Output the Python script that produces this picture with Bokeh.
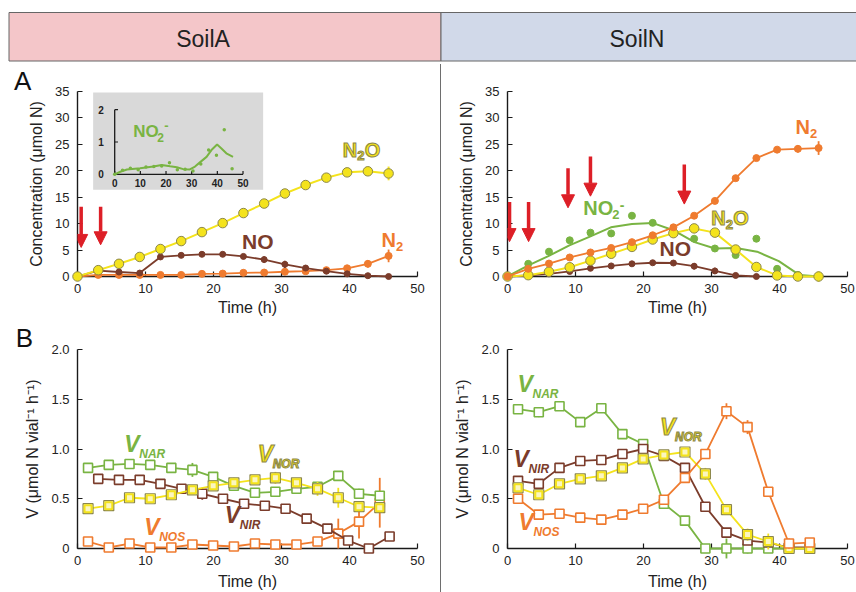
from bokeh.plotting import figure
from bokeh.layouts import column, row
from bokeh.models import Range1d, FixedTicker, Arrow, NormalHead, Spacer, ColumnDataSource
from bokeh.core.properties import value
from bokeh.embed import file_html
from bokeh.resources import INLINE

FONT = "Liberation Sans"
GREEN = "#79b443"
YELLOW = "#f4e31c"
YEL_EDGE = "#8c874a"
BROWN = "#7b3c2b"
ORANGE = "#ef7b2f"
RED = "#dd1f27"
AXIS = "#1a1a1a"

# ---------------- data ----------------
header_labels = ["SoilA", "SoilN"]

conc_xticks = [0, 10, 20, 30, 40, 50]
conc_yticks = [0, 5, 10, 15, 20, 25, 30, 35]
rate_yticks = [0, 0.5, 1.0, 1.5, 2.0]
rate_ylabels = ["0", "0.5", "1.0", "1.5", "2.0"]
inset_xticks = [0, 10, 20, 30, 40, 50]
inset_yticks = [0, 1, 2]

time_conc = [0, 3.05, 6.1, 9.15, 12.2, 15.25, 18.3, 21.35, 24.4, 27.45, 30.5, 33.55, 36.6, 39.65, 42.7, 45.75]

# SoilA gases (umol N)
soilA_N2O = [0, 1.2, 2.4, 3.7, 5.2, 6.7, 8.4, 10.1, 12.0, 13.8, 15.7, 17.3, 18.7, 19.7, 19.9, 19.5]
soilA_N2O_err = [0, 0, 0, 0, 0, 0, 0, 0, 0, 0, 0, 0, 0.6, 0.3, 0.8, 1.3]
soilA_NO = [0, 1.1, 0.85, 0.65, 3.7, 4.0, 4.2, 4.2, 3.8, 3.2, 2.3, 1.6, 1.0, 0.5, 0.15, 0.0]
soilA_NO_err = [0, 0, 0, 0, 0, 0, 0, 0, 0.3, 0.6, 0.7, 0.5, 0.3, 0, 0, 0]
soilA_N2 = [0, 0.3, 0.3, 0.3, 0.3, 0.3, 0.5, 0.55, 0.7, 0.75, 0.9, 1.0, 1.2, 1.55, 2.4, 3.9]
soilA_N2_err = [0, 0, 0, 0, 0, 0, 0, 0, 0, 0, 0, 0, 0, 0.3, 0.7, 1.2]
# SoilA nitrite (inset)
soilA_NO2 = [0, 0.13, 0.19, 0.14, 0.23, 0.24, 0.26, 0.36, 0.14, 0.16, 0.10, 0.32, 0.75, 0.59, 1.38, 0.17]
soilA_NO2_fit_t = [0, 2.2, 4.8, 9.9, 15.1, 18.3, 21.6, 24.2, 26.7, 29.3, 31.3, 33.2, 35.8, 37.7, 39.9, 41.6, 43.5, 46.1]
soilA_NO2_fit = [0, 0.08, 0.15, 0.19, 0.24, 0.29, 0.25, 0.22, 0.16, 0.15, 0.24, 0.37, 0.54, 0.75, 0.92, 0.80, 0.65, 0.54]
soilA_arrow_t = [0.54, 3.4]
soilA_arrow_top = [13.2, 13.2]
soilA_arrow_tip = [5.5, 6.0]

# SoilN gases (umol N)
soilN_N2 = [0, 1.45, 2.45, 3.6, 4.55, 5.4, 6.5, 7.8, 9.3, 11.5, 14.3, 18.6, 22.4, 24.0, 24.15, 24.3]
soilN_N2_err = [0, 0, 0, 0, 0, 0, 0, 0, 0, 0, 0, 0, 0, 0, 0.7, 1.3]
soilN_N2O = [0, 0.25, 0.9, 1.75, 3.0, 4.3, 5.6, 7.0, 8.2, 9.1, 8.3, 5.1, 1.8, 0.2, 0.0, 0.0]
soilN_N2O_err = [0, 0, 0, 0, 0, 0, 0, 0, 0, 0, 0, 0, 0, 0, 0, 1.0]
soilN_NO = [0, 0.2, 0.5, 0.95, 1.55, 2.0, 2.4, 2.6, 2.55, 1.95, 1.05, 0.2, 0.0]
soilN_NO_err = [0, 0, 0, 0, 0, 0, 0, 0, 0, 0.6, 0.6, 0.5, 0.4]
soilN_NO2 = [0, 2.4, 4.7, 6.85, 8.3, 8.15, 11.5, 10.15, 8.35, 7.15, 5.3, 4.05, 7.15, 1.45, 0.3, 0.0]
soilN_NO2_fit_t = [0, 3.0, 6.0, 9.1, 12.2, 15.2, 18.3, 21.4, 24.5, 27.5, 30.5, 33.6, 36.7, 39.9, 42.9, 45.9]
soilN_NO2_fit = [0, 2.05, 3.85, 5.9, 7.6, 9.3, 9.95, 10.1, 8.7, 6.5, 5.3, 5.4, 4.7, 2.9, 0.3, 0.0]
soilN_arrow_t = [0.3, 3.1, 8.9, 12.2, 26.0]
soilN_arrow_top = [14.1, 14.1, 20.5, 22.7, 21.2]
soilN_arrow_tip = [6.6, 6.6, 13.0, 15.2, 13.7]

# Enzyme rates V (umol N vial-1 h-1)
time_rate = [1.55, 4.6, 7.65, 10.7, 13.8, 16.9, 19.95, 23.0, 26.1, 29.1, 32.2, 35.3, 38.35, 41.4, 44.45]
time_rate_nirA = [3.05, 6.1, 9.15, 12.2, 15.3, 18.35, 21.4, 24.5, 27.55, 30.6, 33.7, 36.75, 39.8, 42.85, 45.9]

soilA_NAR = [0.81, 0.84, 0.85, 0.84, 0.81, 0.79, 0.72, 0.63, 0.56, 0.57, 0.60, 0.62, 0.73, 0.55, 0.53]
soilA_NAR_err = [0, 0, 0.04, 0.02, 0.03, 0.07, 0, 0.05, 0, 0, 0, 0.03, 0.02, 0.05, 0]
soilA_NOR = [0.40, 0.43, 0.51, 0.50, 0.54, 0.59, 0.63, 0.66, 0.69, 0.71, 0.66, 0.60, 0.51, 0.42, 0.41]
soilA_NOR_err = [0, 0, 0, 0, 0, 0.04, 0, 0.05, 0.03, 0.06, 0.03, 0.07, 0.1, 0.05, 0.05]
soilA_NIR = [0.70, 0.69, 0.69, 0.65, 0.60, 0.55, 0.50, 0.45, 0.43, 0.40, 0.30, 0.20, 0.08, 0.00, 0.12]
soilA_NIR_err = [0, 0, 0.04, 0, 0.03, 0.06, 0, 0.04, 0, 0.02, 0, 0, 0, 0.02, 0]
soilA_NOS = [0.07, 0.01, 0.05, 0.01, 0.01, 0.04, 0.03, 0.02, 0.05, 0.04, 0.04, 0.07, 0.15, 0.27, 0.46]
soilA_NOS_err = [0, 0, 0, 0, 0, 0, 0, 0, 0, 0, 0, 0.04, 0.15, 0.17, 0.25]

soilN_NAR = [1.40, 1.37, 1.43, 1.27, 1.41, 1.15, 1.05, 0.45, 0.28, 0, 0, 0, 0, 0, 0]
soilN_NAR_err = [0, 0.05, 0, 0, 0, 0, 0.04, 0, 0, 0, 0.1, 0.05, 0, 0, 0]
soilN_NIR = [0.68, 0.65, 0.81, 0.88, 0.89, 0.95, 1.00, 0.93, 0.81, 0.42, 0.16, 0.08, 0.06, 0.01, 0.01]
soilN_NIR_err = [0, 0, 0.03, 0, 0.02, 0.05, 0, 0.03, 0, 0, 0, 0, 0, 0, 0]
soilN_NOR = [0.61, 0.54, 0.65, 0.70, 0.73, 0.81, 0.90, 0.94, 0.97, 0.75, 0.39, 0.14, 0.07, 0.0, 0.0]
soilN_NOR_err = [0, 0, 0, 0, 0, 0, 0, 0.03, 0, 0.06, 0, 0.06, 0.08, 0.05, 0]
soilN_NOS = [0.50, 0.34, 0.35, 0.31, 0.29, 0.34, 0.40, 0.49, 0.71, 0.95, 1.38, 1.22, 0.57, 0.05, 0.06]
soilN_NOS_err = [0, 0, 0, 0, 0, 0, 0, 0, 0, 0, 0.08, 0.07, 0, 0.05, 0]


# ---------------- helpers ----------------
def make_fig(w, h, left, right, top, bottom, yr, ylabel, yticks, ylabels=None, title_gap=3):
    p = figure(width=w, height=h, x_range=Range1d(0, 50), y_range=Range1d(*yr),
               output_backend="svg", toolbar_location=None,
               min_border_left=left, min_border_right=right,
               min_border_top=top, min_border_bottom=bottom)
    p.grid.visible = False
    p.outline_line_color = None
    p.border_fill_color = "white"
    p.background_fill_color = "white"
    p.xaxis.ticker = FixedTicker(ticks=conc_xticks)
    p.yaxis.ticker = FixedTicker(ticks=yticks)
    if ylabels:
        p.yaxis.major_label_overrides = dict(zip(yticks, ylabels))
    p.xaxis.axis_label = "Time (h)"
    p.yaxis.axis_label = ylabel
    for ax in p.axis:
        ax.axis_line_color = AXIS
        ax.axis_line_width = 1.4
        ax.major_tick_line_color = AXIS
        ax.major_tick_line_width = 1.2
        ax.major_tick_in = 5
        ax.major_tick_out = 0
        ax.minor_tick_line_color = None
        ax.major_label_text_font = FONT
        ax.major_label_text_font_size = "13px"
        ax.major_label_text_color = "#222222"
        ax.axis_label_text_font = FONT
        ax.axis_label_text_font_size = "16px"
        ax.axis_label_text_font_style = "normal"
        ax.axis_label_text_color = "#222222"
    p.xaxis.major_label_standoff = 7
    p.xaxis.axis_label_standoff = title_gap
    p.yaxis.major_label_standoff = 8
    p.yaxis.axis_label_standoff = 7
    return p


def series(g, x, y, color, err=None, marker="circle", size=7, fill=None, edge=None, lw=1.8, edge_w=1.0):
    g.line(x, y, line_color=color, line_width=lw, level="overlay")
    if err is not None:
        xs, lo, hi = [], [], []
        for xi, yi, ei in zip(x, y, err):
            if ei > 0:
                xs.append(xi)
                lo.append(yi - ei)
                hi.append(yi + ei)
        g.segment(x0=xs, y0=lo, x1=xs, y1=hi, line_color=color, line_width=lw, level="overlay")
    g.scatter(x, y, marker=marker, size=size, fill_color=fill or color,
              line_color=edge or color, line_width=edge_w, level="overlay")


def rich(g, x, y, pieces, color, style="bold", outline=None):
    off = 0.0
    for txt, size, dy, adv in pieces:
        kw = {}
        if outline:
            kw["text_outline_color"] = outline
        g.text(x=[x], y=[y], text=[txt], x_offset=off, y_offset=dy,
               text_font=value(FONT), text_font_size=f"{size}px", text_font_style=style,
               text_color=color, text_align="left", text_baseline="middle", level="overlay", **kw)
        off += adv


def arrows(p, xs, tops, tips):
    src = ColumnDataSource(dict(x=xs, top=tops, tip=tips))
    p.add_layout(Arrow(end=NormalHead(size=13, fill_color=RED, line_color=RED, line_width=1),
                       x_start="x", y_start="top", x_end="x", y_end="tip", source=src,
                       line_color=RED, line_width=3.5))


def vlabel(g, x, y, sub, color, outline=None):
    rich(g, x, y, [("V", 23, 0, 15), (sub, 12, 10, 0)], color, style="bold italic", outline=outline)


def panel_letter(p, x, y, txt):
    p.text(x=[x], y=[y], text=[txt], text_font=value(FONT), text_font_size="26px",
           text_color="#111111", text_align="center", text_baseline="middle", level="overlay")


# ---------------- header ----------------
hdr = figure(width=856, height=64, x_range=Range1d(0, 856), y_range=Range1d(0, 64),
             output_backend="svg", toolbar_location=None, min_border=0,
             x_axis_location=None, y_axis_location=None)
hdr.grid.visible = False
hdr.outline_line_color = None
hdr.quad(left=[8.5, 440.5], right=[440.5, 862], bottom=[3.5, 3.5], top=[52, 52],
         fill_color=["#f4c6c9", "#d1d9e9"], line_color="#666666", line_width=1)
hdr.text(x=[202.5, 636.5], y=[25.7, 25.7], text=header_labels, text_font=value(FONT),
         text_font_size="23px", text_color="#222222", text_align="center", text_baseline="middle")

# ---------------- panel A, SoilA ----------------
pA = make_fig(440, 254, 77, 22, 27, 40, (0, 35), "Concentration (μmol N)", conc_yticks)
pA.quad(left=[2.3], right=[27.3], bottom=[16.4], top=[34.8], fill_color="#d9d9d9", line_color=None)
ins = pA.subplot(x_source=Range1d(0, 50), y_source=Range1d(0, 2),
                 x_target=Range1d(5.47, 24.34), y_target=Range1d(19.33, 31.56))
ins.line([0, 0], [0, 2], line_color=AXIS, line_width=1.3)
ins.line([0, 50], [0, 0], line_color=AXIS, line_width=1.3)
ins.segment(x0=[0] * len(inset_yticks), x1=[1.3] * len(inset_yticks), y0=inset_yticks, y1=inset_yticks,
            line_color=AXIS, line_width=1.2)
ins.segment(x0=inset_xticks, x1=inset_xticks, y0=[0] * len(inset_xticks), y1=[0.1] * len(inset_xticks),
            line_color=AXIS, line_width=1.2)
ins.text(x=[-4.2] * len(inset_yticks), y=inset_yticks, text=[str(v) for v in inset_yticks],
         text_font=value(FONT), text_font_size="10px", text_font_style="bold", text_color="#222222",
         text_align="right", text_baseline="middle")
ins.text(x=inset_xticks, y=[-0.27] * len(inset_xticks), text=[str(v) for v in inset_xticks],
         text_font=value(FONT), text_font_size="10px", text_font_style="bold", text_color="#222222",
         text_align="center", text_baseline="middle")
ins.line(soilA_NO2_fit_t, soilA_NO2_fit, line_color=GREEN, line_width=2)
ins.scatter(time_conc, soilA_NO2, size=3.5, fill_color=GREEN, line_color=None)
rich(ins, 7.2, 1.32, [("NO", 17, 0, 24), ("2", 12, 6, 7), ("-", 13, -6, 0)], GREEN)

series(pA, time_conc, soilA_N2, ORANGE, soilA_N2_err, size=7)
series(pA, time_conc, soilA_NO, BROWN, soilA_NO_err, size=6)
series(pA, time_conc, soilA_N2O, YELLOW, soilA_N2O_err, size=9.5, edge=YEL_EDGE, lw=2)
arrows(pA, soilA_arrow_t, soilA_arrow_top, soilA_arrow_tip)
rich(pA, 39.0, 23.96, [("N", 20, 0, 14.5), ("2", 13, 6, 7.5), ("O", 20, 0, 0)], YELLOW, outline=YEL_EDGE)
rich(pA, 24.2, 6.64, [("NO", 21, 0, 0)], BROWN)
rich(pA, 44.7, 6.83, [("N", 20, 0, 14.5), ("2", 13, 6, 0)], ORANGE)
panel_letter(pA, -8.06, 37.06, "A")

# ---------------- panel A, SoilN ----------------
pAN = make_fig(415, 254, 66, 9, 27, 40, (0, 35), "Concentration (μmol N)", conc_yticks)
pAN.line(soilN_NO2_fit_t, soilN_NO2_fit, line_color=GREEN, line_width=2, level="overlay")
pAN.scatter(time_conc, soilN_NO2, size=7, fill_color=GREEN, line_color=GREEN, level="overlay")
series(pAN, time_conc[:len(soilN_NO)], soilN_NO, BROWN, soilN_NO_err, size=6)
series(pAN, time_conc, soilN_N2O, YELLOW, soilN_N2O_err, size=9.5, edge=YEL_EDGE, lw=2)
series(pAN, time_conc, soilN_N2, ORANGE, soilN_N2_err, size=7)
arrows(pAN, soilN_arrow_t, soilN_arrow_top, soilN_arrow_tip)
rich(pAN, 42.35, 28.2, [("N", 20, 0, 14.5), ("2", 13, 6, 0)], ORANGE)
rich(pAN, 11.13, 12.94, [("NO", 20, 0, 29), ("2", 13, 6, 7.5), ("-", 14, -3, 0)], GREEN)
rich(pAN, 29.96, 11.04, [("N", 20, 0, 14.5), ("2", 13, 6, 7.5), ("O", 20, 0, 0)], YELLOW, outline=YEL_EDGE)
rich(pAN, 22.35, 5.24, [("NO", 21, 0, 0)], BROWN)

# ---------------- panel B, SoilA ----------------
VLAB = "V (μmol N vial⁻¹ h⁻¹)"
pB = make_fig(440, 274, 76, 23, 31, 44, (0, 2), VLAB, rate_yticks, rate_ylabels, title_gap=5)
sq = dict(marker="square", size=9, fill="white", edge_w=1.6)
series(pB, time_rate, soilA_NOS, ORANGE, soilA_NOS_err, edge=ORANGE, **sq)
series(pB, time_rate_nirA, soilA_NIR, BROWN, soilA_NIR_err, edge=BROWN, **sq)
series(pB, time_rate, soilA_NAR, GREEN, soilA_NAR_err, edge=GREEN, **sq)
series(pB, time_rate, soilA_NOR, YELLOW, soilA_NOR_err, marker="square", size=10, fill="#fbf6c0",
       edge=YEL_EDGE, edge_w=1.2)
pB.scatter(time_rate, soilA_NOR, marker="square", size=7, fill_color=None, line_color=YELLOW,
           line_width=2, level="overlay")
vlabel(pB, 6.88, 1.05, "NAR", GREEN)
vlabel(pB, 26.5, 0.945, "NOR", YELLOW, outline=YEL_EDGE)
vlabel(pB, 21.67, 0.34, "NIR", BROWN)
vlabel(pB, 9.81, 0.215, "NOS", ORANGE)
panel_letter(pB, -7.8, 2.12, "B")

# ---------------- panel B, SoilN ----------------
pBN = make_fig(415, 274, 65, 9, 31, 44, (0, 2), VLAB, rate_yticks, rate_ylabels, title_gap=5)
series(pBN, time_rate, soilN_NAR, GREEN, soilN_NAR_err, edge=GREEN, **sq)
series(pBN, time_rate, soilN_NIR, BROWN, soilN_NIR_err, edge=BROWN, **sq)
series(pBN, time_rate, soilN_NOR, YELLOW, soilN_NOR_err, marker="square", size=10, fill="#fbf6c0",
       edge=YEL_EDGE, edge_w=1.2)
pBN.scatter(time_rate, soilN_NOR, marker="square", size=7, fill_color=None, line_color=YELLOW,
            line_width=2, level="overlay")
series(pBN, time_rate, soilN_NOS, ORANGE, soilN_NOS_err, edge=ORANGE, **sq)
vlabel(pBN, 1.47, 1.654, "NAR", GREEN)
vlabel(pBN, 22.43, 1.222, "NOR", YELLOW, outline=YEL_EDGE)
vlabel(pBN, 0.88, 0.896, "NIR", BROWN)
vlabel(pBN, 1.61, 0.269, "NOS", ORANGE)

divider = Spacer(width=1, height=528, styles={"background-color": "#6e6e6e"})
layout = column(hdr, row(column(pA, pB), divider, column(pAN, pBN)))

open("out.html", "w").write(file_html(layout, INLINE))
